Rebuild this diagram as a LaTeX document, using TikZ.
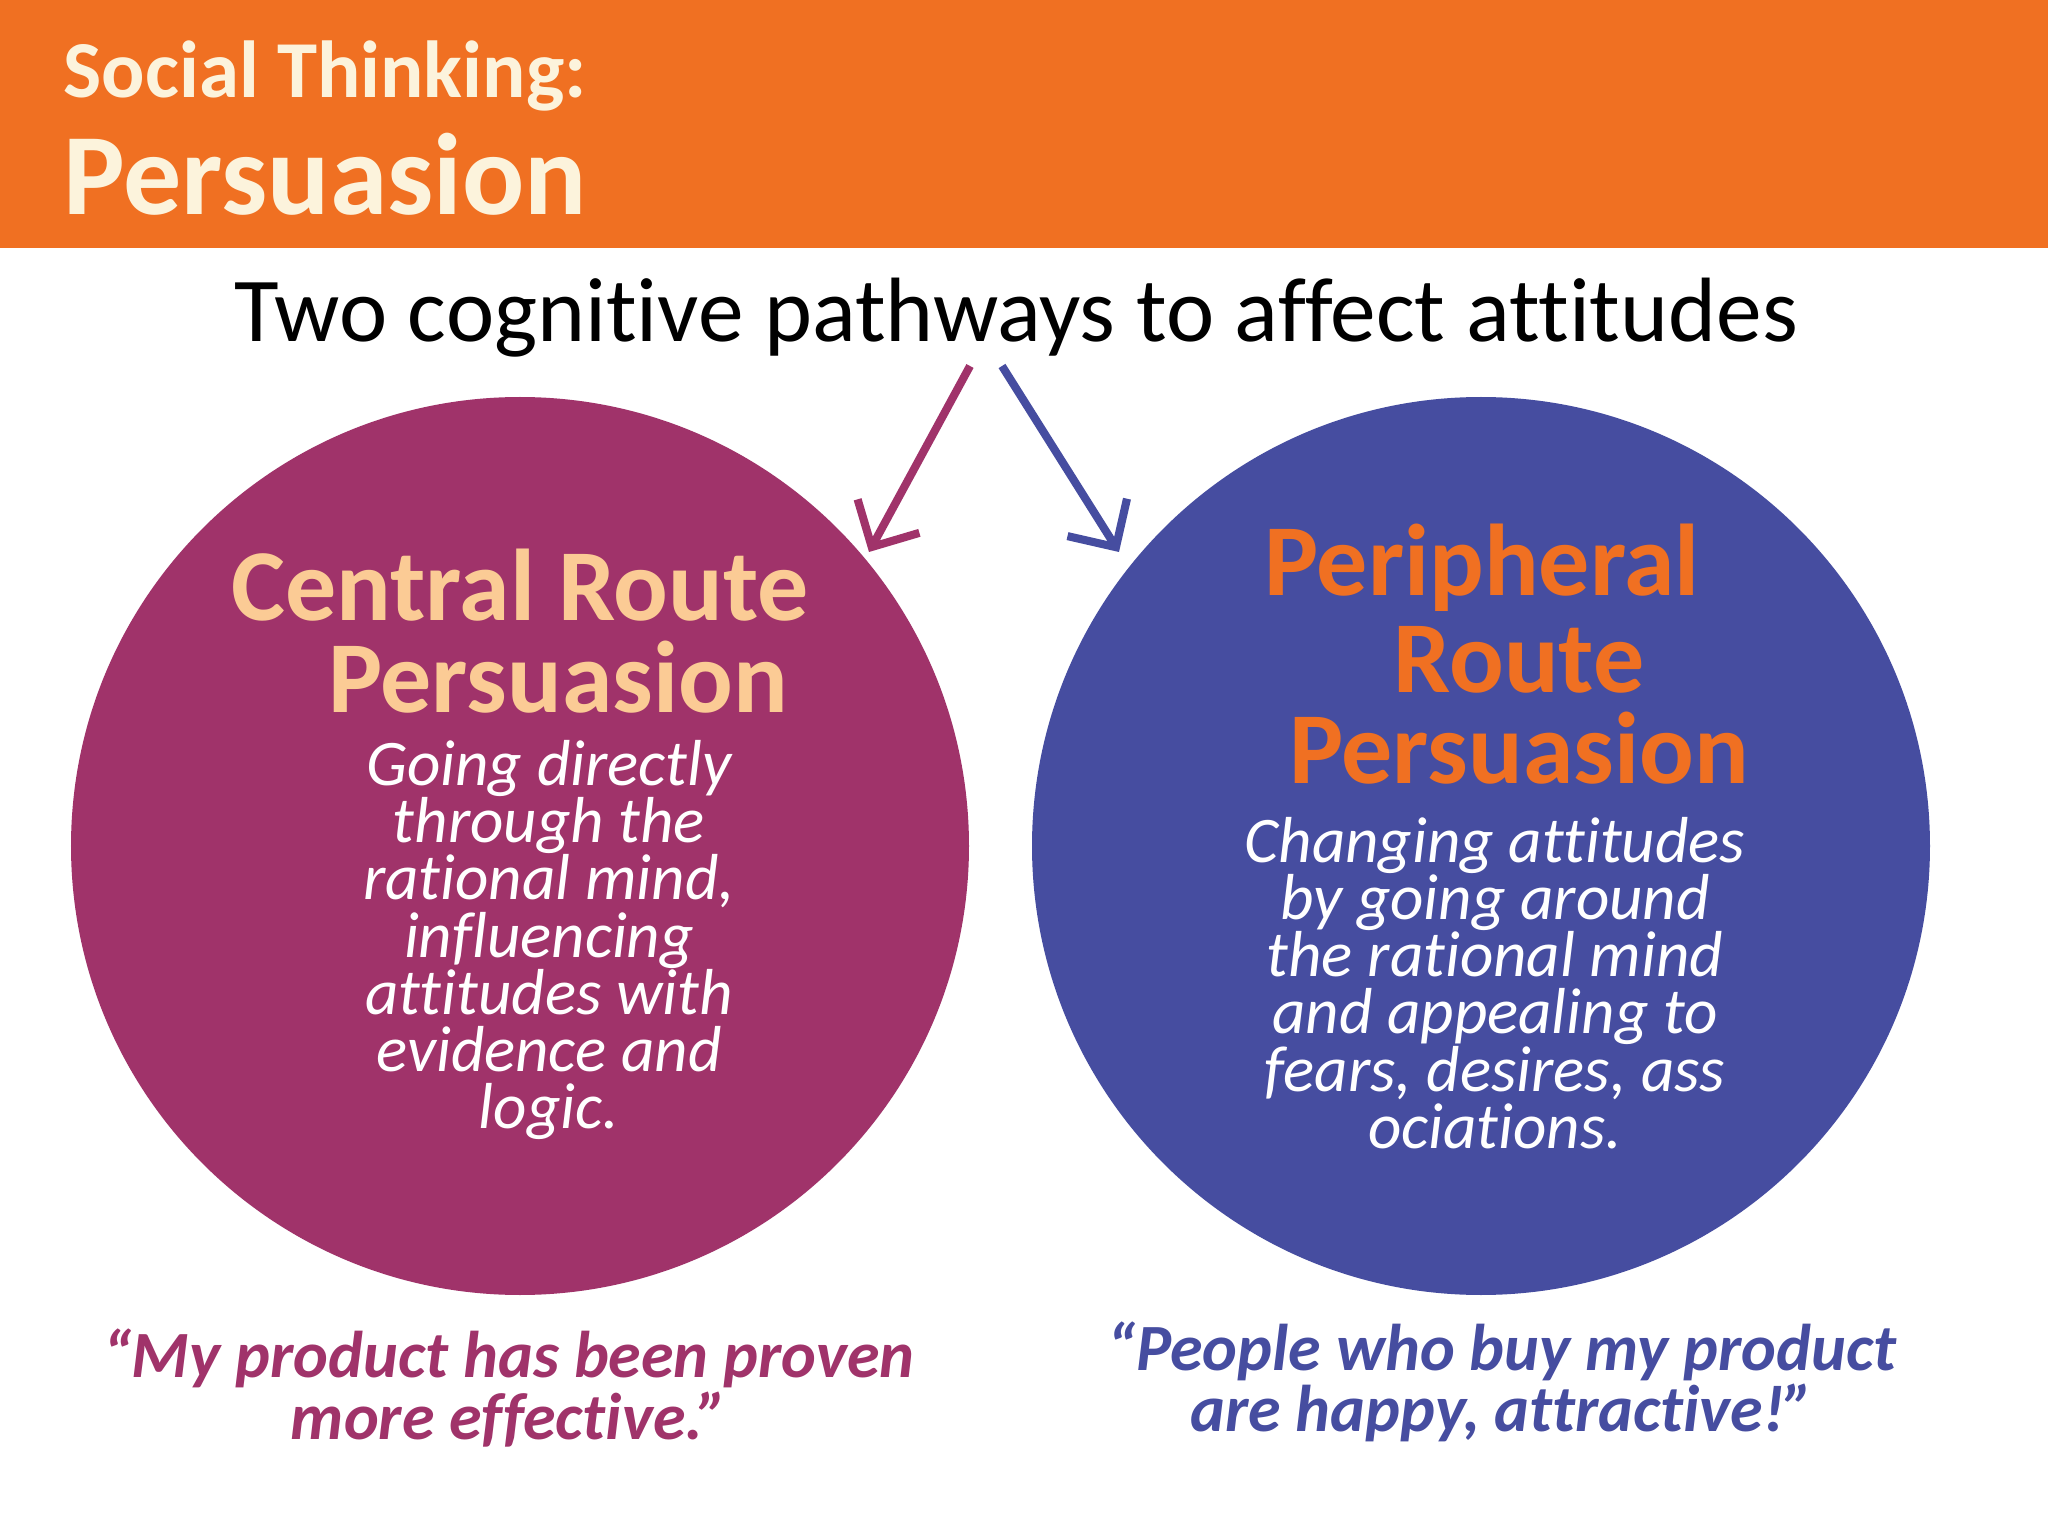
\documentclass[tikz,border=0pt]{standalone}
\usepackage{fontspec}
\setmainfont{Carlito}[Ligatures={NoCommon}]
\usetikzlibrary{arrows.meta}
\definecolor{orng}{HTML}{F07022}
\definecolor{cream}{HTML}{FCF3DC}
\definecolor{purp}{HTML}{A0336A}
\definecolor{blu}{HTML}{464DA0}
\definecolor{peach}{HTML}{FBCB95}
\begin{document}
\begin{tikzpicture}[
  ttl/.style={font=\fontsize{29}{26}\selectfont\bfseries, align=center, inner sep=0},
  body/.style={font=\fontsize{18.5}{16.3}\selectfont\itshape, text=white, align=center, inner sep=0},
  quote/.style={font=\fontsize{18.8}{16.2}\selectfont\bfseries\itshape, align=center, inner sep=0},
  arr/.style={line width=2.3pt, -{Straight Barb[length=10pt,width=20pt,line width=2.3pt]}}
]
\useasboundingbox (0,0) rectangle (20.48,-15.36);
\fill[white] (0,0) rectangle (20.48,-15.36);
\fill[orng] (0,0) rectangle (20.48,-2.48);
\node[anchor=base west, inner sep=0, text=cream, font=\fontsize{23}{23}\selectfont\bfseries] (h1) at (0.63,-0.98) {Social Thinking:};
\node[anchor=base west, inner sep=0, text=cream, font=\fontsize{33}{33}\selectfont\bfseries] (h2) at (0.63,-2.15) {Persuasion};
\node[anchor=base, inner sep=0, font=\fontsize{26}{26}\selectfont] (sub) at (10.16,-3.42) {Two cognitive pathways to affect attitudes};
\fill[purp] (5.20,-8.46) circle[radius=4.49cm];
\fill[blu] (14.81,-8.46) circle[radius=4.49cm];
\coordinate (a1s) at (9.70,-3.66); \coordinate (a1e) at (8.69,-5.52);
\coordinate (a2s) at (10.02,-3.66); \coordinate (a2e) at (11.19,-5.52);
\draw[arr, purp] (a1s) -- (a1e);
\draw[arr, blu] (a2s) -- (a2e);
\node[ttl, text=peach] (c1) at (5.20,-5.85) {Central Route};
\node[ttl, text=peach] (c2) at (5.58,-6.77) {Persuasion};
\node[body] (cb) at (5.49,-9.40) {Going directly\\through the\\rational mind,\\influencing\\attitudes with\\evidence and\\logic.};
\node[ttl, text=orng] (p1) at (14.82,-5.68) {Peripheral};
\node[ttl, text=orng] (p2) at (15.19,-6.60) {Route};
\node[ttl, text=orng] (p3) at (15.19,-7.48) {Persuasion};
\node[body] (pb) at (14.95,-9.83) {Changing attitudes\\by going around\\the rational mind\\and appealing to\\fears, desires, ass\\ociations.};
\node[quote, text=purp] (q1) at (5.09,-13.88) {“My product has been proven\\more effective.”};
\node[quote, text=blu] (q2) at (15.02,-13.82) {“People who buy my product\\are happy, attractive!”};
\end{tikzpicture}
\end{document}
